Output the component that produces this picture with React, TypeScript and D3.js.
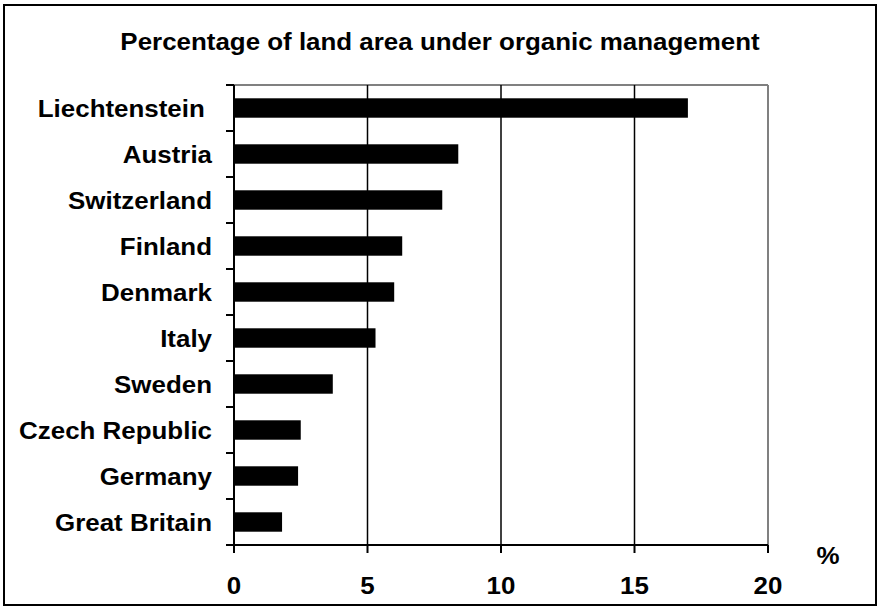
import React from "react";
import * as d3 from "d3";

const categories = [
  "Liechtenstein ",
  "Austria",
  "Switzerland",
  "Finland",
  "Denmark",
  "Italy",
  "Sweden",
  "Czech Republic",
  "Germany",
  "Great Britain",
];
const values = [17.0, 8.4, 7.8, 6.3, 6.0, 5.3, 3.7, 2.5, 2.4, 1.8];
const xTicks = [0, 5, 10, 15, 20];
const title = "Percentage of land area under organic management";
const unitLabel = "%";

const W = 880;
const H = 608;
const FONT = "'Liberation Sans', Arial, Helvetica, sans-serif";
const FS = 24;
const SX = 1.08;

function T({ x, y, anchor, children }: { x: number; y: number; anchor: string; children: any }) {
  return (
    <g transform={`translate(${x},${y}) scale(${SX},1)`}>
      <text
        x={0}
        y={0}
        textAnchor={anchor as any}
        fontFamily={FONT}
        fontWeight="bold"
        fontSize={FS}
        fill="#000"
        style={{ whiteSpace: "pre" }}
      >
        {children}
      </text>
    </g>
  );
}

export default function App() {
  const x = d3.scaleLinear().domain([0, 20]).range([234, 768]);
  const y = d3
    .scaleBand<string>()
    .domain(categories)
    .range([85, 545])
    .paddingInner(0.578)
    .paddingOuter(0.289);
  const step = y.step();
  const [x0, x1] = x.range();
  const [y0, y1] = y.range();
  const boundaries = d3.range(categories.length + 1).map((i) => y0 + i * step);

  return (
    <svg
      width={W}
      height={H}
      style={{ position: "absolute", left: 0, top: 0, background: "#fff" }}
    >
      <rect x={0} y={0} width={W} height={H} fill="#fff" />
      <rect x={4} y={5} width={W - 8} height={H - 8} fill="none" stroke="#000" strokeWidth={2} />
      <T x={W / 2} y={50} anchor="middle">{title}</T>

      {/* plot frame (gray top & right) */}
      <line x1={x0} x2={x1} y1={y0} y2={y0} stroke="#808080" strokeWidth={2} />
      <line x1={x1} x2={x1} y1={y0} y2={y1} stroke="#808080" strokeWidth={2} />

      {/* gridlines */}
      {xTicks.slice(1, -1).map((t) => (
        <line key={"g" + t} x1={x(t)} x2={x(t)} y1={y0} y2={y1} stroke="#000" strokeWidth={1.5} />
      ))}

      {/* bars */}
      {categories.map((c, i) => (
        <rect
          key={c}
          x={x(0)}
          y={y(c)!}
          width={x(values[i]) - x(0)}
          height={y.bandwidth()}
          fill="#000"
        />
      ))}

      {/* y axis */}
      <line x1={x0} x2={x0} y1={y0} y2={y1} stroke="#000" strokeWidth={2} />
      {boundaries.map((b, i) => (
        <line key={"yt" + i} x1={x0 - 8} x2={x0} y1={b} y2={b} stroke="#000" strokeWidth={2} />
      ))}

      {/* x axis */}
      <line x1={x0 - 8} x2={x1} y1={y1} y2={y1} stroke="#000" strokeWidth={2} />
      {xTicks.map((t) => (
        <line key={"xt" + t} x1={x(t)} x2={x(t)} y1={y1} y2={y1 + 8} stroke="#000" strokeWidth={2} />
      ))}

      {/* labels */}
      {categories.map((c) => (
        <T key={"l" + c} x={212} y={y(c)! + y.bandwidth() / 2 + 8.7} anchor="end">
          {c}
        </T>
      ))}
      {xTicks.map((t) => (
        <T key={"tl" + t} x={x(t)} y={594} anchor="middle">
          {String(t)}
        </T>
      ))}
      <T x={828} y={564} anchor="middle">{unitLabel}</T>
    </svg>
  );
}
